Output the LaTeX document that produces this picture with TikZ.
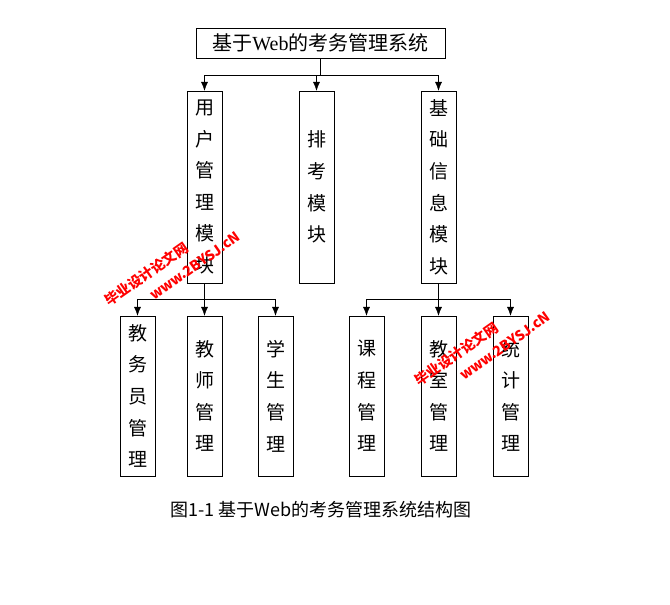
\documentclass[tikz,border=0pt]{standalone}
\usepackage{fontspec}
\setmainfont{Liberation Serif}
\newfontfamily\cjk{Noto Sans CJK SC}
\usetikzlibrary{arrows.meta}
\tikzset{
    vbox/.style={draw, minimum width=35pt, align=center, font=\fontsize{19}{31.6}\selectfont\cjk, inner sep=0pt},
    link/.style={-{Latex[length=9pt,width=7pt]}},
    stamp/.style={text=red, align=left, font=\bfseries\fontsize{14}{21}\selectfont\cjk, rotate=35}
}
\begin{document}
\begin{tikzpicture}[x=1pt,y=-1pt]
    \useasboundingbox[fill=white] (0,0) rectangle (670,605);
    \node[draw, minimum width=249pt, minimum height=30pt, inner sep=0pt, font=\fontsize{20}{20}\selectfont] (top) at (320.5,43) {{\cjk 基于}Web{\cjk 的考务管理系统}};
    % second level
    \node[vbox, minimum height=192pt] (user) at (204.5,187) {用\\户\\管\\理\\模\\块};
    \node[vbox, minimum height=192pt] (exam) at (316.5,187) {排\\考\\模\\块};
    \node[vbox, minimum height=192pt] (base) at (438.5,187) {基\\础\\信\\息\\模\\块};
    % third level
    \node[vbox, minimum height=160pt] (staff) at (137.5,396) {教\\务\\员\\管\\理};
    \node[vbox, minimum height=160pt] (teach) at (204.5,396) {教\\师\\管\\理};
    \node[vbox, minimum height=160pt] (stud)  at (275.5,396) {学\\生\\管\\理};
    \node[vbox, minimum height=160pt] (course) at (366.5,396) {课\\程\\管\\理};
    \node[vbox, minimum height=160pt] (room)   at (438.5,396) {教\\室\\管\\理};
    \node[vbox, minimum height=160pt] (stat)   at (510.5,396) {统\\计\\管\\理};
    % connectors
    \coordinate (j1) at (320.5,75);
    \draw (top.south) -- (j1);
    \draw[link] (j1) -| (user.north);
    \draw[link] (j1) -- (exam.north |- j1) -- (exam.north);
    \draw[link] (j1) -| (base.north);
    \coordinate (j2) at (204.5,299);
    \draw (user.south) -- (j2);
    \draw[link] (j2) -| (staff.north);
    \draw[link] (j2) -- (teach.north);
    \draw[link] (j2) -| (stud.north);
    \coordinate (j3) at (438.5,299);
    \draw (base.south) -- (j3);
    \draw[link] (j3) -| (course.north);
    \draw[link] (j3) -- (room.north);
    \draw[link] (j3) -| (stat.north);
    % caption
    \node[font=\fontsize{18}{18}\selectfont\cjk] (cap) at (321,510) {图1-1 基于Web的考务管理系统结构图};
    % watermark
    \node[stamp] (wm1) at (172,268) {毕业设计论文网\\\hspace*{40pt}www.2BYSJ.cN};
    \node[stamp] (wm2) at (482,348) {毕业设计论文网\\\hspace*{40pt}www.2BYSJ.cN};
\end{tikzpicture}
\end{document}
